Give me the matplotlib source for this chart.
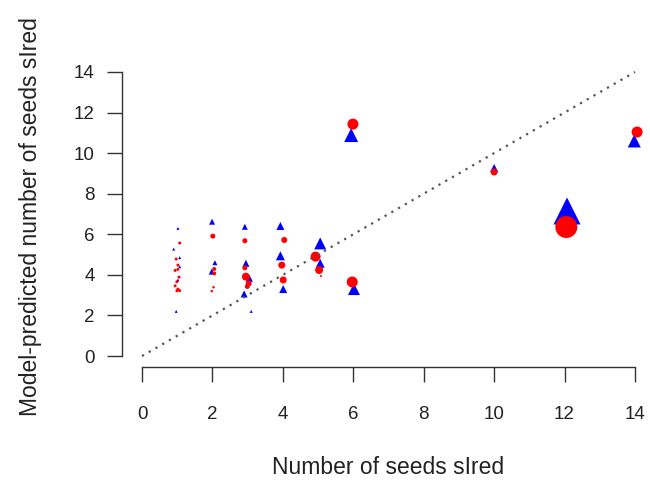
import matplotlib
matplotlib.use("Agg")
import matplotlib.pyplot as plt
import numpy as np

plt.rcParams['font.family'] = ['Liberation Sans', 'DejaVu Sans']

# Observed (slightly jittered) vs model-predicted seeds sired, two models
blue_x = [1.02, 0.90, 1.07, 1.07, 1.02, 0.97,
          1.99, 2.07, 1.98,
          2.92, 2.95, 3.05, 2.90, 3.10,
          3.93, 3.93, 4.01,
          5.06, 5.06,
          5.94, 6.02,
          10.0, 12.07, 13.98]
blue_y = [6.29, 5.27, 4.85, 4.40, 3.75, 2.20,
          6.62, 4.60, 4.16,
          6.37, 4.57, 3.83, 3.06, 2.20,
          6.41, 4.94, 3.30,
          5.55, 4.57,
          10.89, 3.30,
          9.27, 7.15, 10.60]
blue_w = [3, 3, 3, 3, 3, 3,
          6, 5, 6,
          6, 7, 7, 7, 3,
          8, 9, 8,
          12, 9,
          14, 12,
          8, 27, 13]

red_x = [1.07, 0.97, 1.02, 0.94, 1.02, 1.05, 0.99, 0.94, 1.02, 0.99, 1.07,
         2.01, 2.05, 2.05, 2.03, 1.98,
         2.92, 2.92, 2.95, 3.03, 2.99,
         4.04, 3.97, 4.01,
         4.93, 5.03, 5.08,
         5.99, 5.97,
         10.0, 12.05, 14.06]
red_y = [5.57, 4.78, 4.48, 4.22, 4.27, 3.89, 3.66, 3.46, 3.30, 3.22, 3.22,
         5.91, 4.29, 4.07, 3.39, 3.20,
         5.68, 4.35, 3.91, 3.58, 3.43,
         5.72, 4.48, 3.75,
         4.90, 4.24, 3.94,
         11.43, 3.65,
         9.07, 6.36, 11.04]
red_w = [3, 3, 3, 3, 3, 3, 3, 3, 3, 3, 3,
         5, 4, 4, 2.5, 2.5,
         5, 5, 8, 6, 5,
         6, 7, 7,
         10, 8, 2,
         11, 11,
         7, 22, 11]

ticks = [0, 2, 4, 6, 8, 10, 12, 14]

W, H = 650, 483
fig = plt.figure(figsize=(W / 100, H / 100), dpi=100)
left, right, top, bottom = 122.3, 654.7, 60.6, 367.4
ax = fig.add_axes([left / W, 1 - bottom / H, (right - left) / W, (bottom - top) / H])
ax.set_xlim(-0.56, 14.56)
ax.set_ylim(-0.56, 14.56)

px2pt = 0.72
ax.scatter(blue_x, blue_y, s=(np.array(blue_w) * px2pt) ** 2, marker='^',
           color='#0000FF', linewidths=0, zorder=2)
ax.scatter(red_x, red_y, s=(np.array(red_w) * px2pt) ** 2, marker='o',
           color='#FF0000', linewidths=0, zorder=3)
ax.plot([0, 14], [0, 14], linestyle=(0, (1, 2.5)), color='#555555', lw=1.6, zorder=4)

for side in ['top', 'right']:
    ax.spines[side].set_visible(False)
ax.spines['bottom'].set_bounds(0, 14)
ax.spines['left'].set_bounds(0, 14)
for side in ['bottom', 'left']:
    ax.spines[side].set_color('#333333')
    ax.spines[side].set_linewidth(1.0)
ax.set_xticks(ticks)
ax.set_yticks(ticks)
ax.set_xticklabels([str(t) for t in ticks])
ax.set_yticklabels([str(t) for t in ticks])
ax.tick_params(axis='both', length=11, width=1.0, color='#333333',
               labelsize=13.5, labelcolor='#222222')
ax.tick_params(axis='x', pad=16.5)
ax.tick_params(axis='y', pad=9)

fig.text(388 / W, 1 - 467 / H, 'Number of seeds sIred', ha='center', va='center',
         fontsize=16.5, color='#222222')
fig.text(31 / W, 1 - 217 / H, 'Model-predicted number of seeds sIred', ha='center',
         va='center', rotation=90, fontsize=16.5, color='#222222')

fig.savefig('out.png', dpi=100)
